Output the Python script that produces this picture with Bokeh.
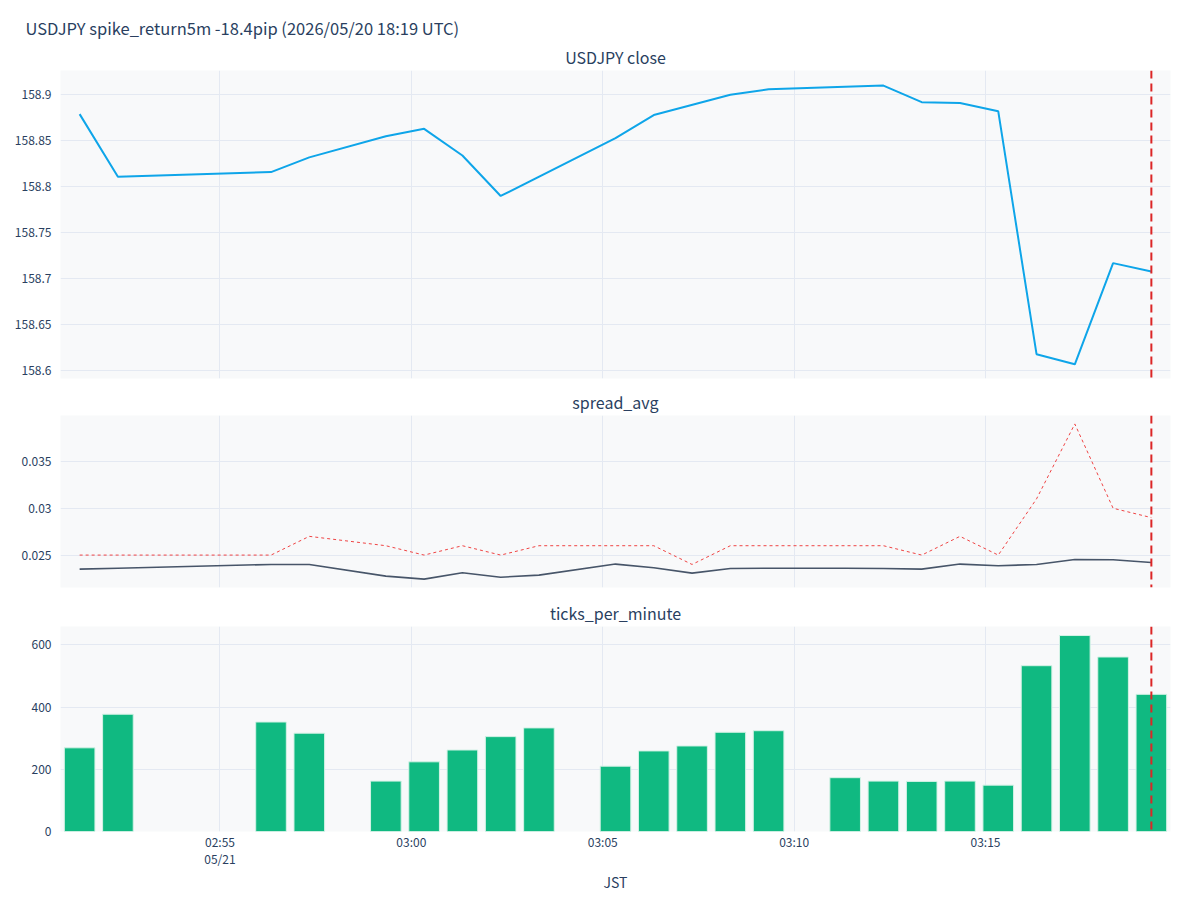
import pandas as pd
from bokeh.plotting import figure
from bokeh.layouts import column
from bokeh.models import Range1d, FixedTicker, Span, Title, CustomJSTickFormatter
from bokeh.embed import file_html
from bokeh.resources import INLINE

# ---------------- data ----------------
DATE = "2026-05-21"  # JST date

bar_times = ["02:51:20", "02:52:20", "02:56:20", "02:57:20", "02:59:20", "03:00:20",
             "03:01:20", "03:02:20", "03:03:20", "03:05:20", "03:06:20", "03:07:20",
             "03:08:20", "03:09:20", "03:11:20", "03:12:20", "03:13:20", "03:14:20",
             "03:15:20", "03:16:20", "03:17:20", "03:18:20", "03:19:20"]
ticks_per_minute = [269, 377, 352, 316, 162, 224, 262, 305, 333, 210, 259, 275,
                    319, 324, 173, 162, 161, 162, 149, 533, 630, 561, 441]

spread_times = bar_times
spread_avg = [0.0235, 0.0236, 0.0240, 0.0240, 0.02275, 0.02243, 0.02311, 0.02264,
              0.02286, 0.02404, 0.02364, 0.02307, 0.02357, 0.0236, 0.0236, 0.02357,
              0.0235, 0.02404, 0.02386, 0.0240, 0.02453, 0.0245, 0.02421]
spread_max = [0.025, 0.025, 0.025, 0.027, 0.026, 0.025, 0.026, 0.025, 0.026, 0.026,
              0.026, 0.024, 0.026, 0.026, 0.026, 0.026, 0.025, 0.027, 0.025, 0.031,
              0.039, 0.030, 0.029]

close_times = ["02:51:20", "02:52:20", "02:56:20", "02:57:20", "02:59:20", "03:00:20",
               "03:01:20", "03:02:20", "03:05:20", "03:06:20", "03:08:20", "03:09:20",
               "03:12:20", "03:13:20", "03:14:20", "03:15:20", "03:16:20", "03:17:20",
               "03:18:20", "03:19:20"]
close_values = [158.879, 158.811, 158.816, 158.832, 158.855, 158.863, 158.834, 158.790,
                158.853, 158.878, 158.900, 158.906, 158.910, 158.892, 158.891, 158.882,
                158.618, 158.607, 158.717, 158.708]

event_time = "03:19:20"
x_start, x_end = "02:50:50", "03:19:50"
xtick_times = ["02:55:00", "03:00:00", "03:05:00", "03:10:00", "03:15:00"]
xtick_labels = ["02:55\n05/21", "03:00", "03:05", "03:10", "03:15"]

close_yrange = (158.5916, 158.9264)
close_yticks = [158.6, 158.65, 158.7, 158.75, 158.8, 158.85, 158.9]
spread_yrange = (0.02154, 0.0399)
spread_yticks = [0.025, 0.03, 0.035]
tick_yrange = (0, 659)
tick_yticks = [0, 200, 400, 600]

TITLE = "USDJPY spike_return5m -18.4pip (2026/05/20 18:19 UTC)"

# ---------------- helpers ----------------
def ts(t):
    return pd.Timestamp(f"{DATE} {t}")

def ms(t):
    return ts(t).value // 10**6

FONT = "Noto Sans CJK JP"
TXT = "#2a3f5f"
GRID = "#e4e9f2"
BG = "#f8f9fa"

x_range = Range1d(ts(x_start), ts(x_end))
xtick_ms = [ms(t) for t in xtick_times]


def style_title(t, size="16px"):
    t.text_font = FONT
    t.text_font_size = size
    t.text_font_style = "normal"
    t.text_color = TXT


def make_fig(height, top, bottom, yrange, yticks):
    p = figure(width=1200, height=height, x_range=x_range, y_range=Range1d(*yrange),
               x_axis_type="datetime", output_backend="svg", toolbar_location=None,
               min_border_left=60, min_border_right=30, min_border_top=top,
               min_border_bottom=bottom, background_fill_color=BG,
               border_fill_color="white")
    p.outline_line_color = None
    for g in (p.xgrid, p.ygrid):
        g.grid_line_color = GRID
        g.grid_line_width = 1
    p.xaxis.ticker = FixedTicker(ticks=xtick_ms)
    p.xaxis.major_label_overrides = dict(zip(xtick_ms, xtick_labels))
    p.yaxis.ticker = FixedTicker(ticks=yticks)
    p.yaxis.formatter = CustomJSTickFormatter(code="return String(+tick.toFixed(4));")
    for ax in (p.xaxis, p.yaxis):
        ax.axis_line_color = None
        ax.major_tick_line_color = None
        ax.minor_tick_line_color = None
        ax.major_label_text_font = FONT
        ax.major_label_text_font_size = "12px"
        ax.major_label_text_color = TXT
    p.yaxis.major_label_standoff = 3
    p.add_layout(Span(location=ms(event_time), dimension="height", line_color="#dc2626",
                      line_width=2, line_dash="8 5"))
    return p


def panel_title(p, text):
    t = Title(text=text, align="center", standoff=4)
    style_title(t)
    return t


# top: close
p1 = make_fig(385, 70, 7, close_yrange, close_yticks)
p1.title.text = TITLE
p1.title.align = "left"
p1.title.offset = -35
p1.title.standoff = 2
style_title(p1.title, "16.5px")
p1.add_layout(panel_title(p1, "USDJPY close"), "above")
p1.xaxis.visible = False
p1.line([ts(t) for t in close_times], close_values, line_color="#0ea5e9", line_width=2)

# middle: spread
p2 = make_fig(211, 20, 9, spread_yrange, spread_yticks)
p2.title.text = "spread_avg"
p2.title.align = "center"
p2.title.standoff = 4
style_title(p2.title)
p2.xaxis.visible = False
st = [ts(t) for t in spread_times]
p2.line(st, spread_max, line_color="#ef4444", line_width=1, line_dash="3 3")
p2.line(st, spread_avg, line_color="#475569", line_width=1.6)

# bottom: ticks per minute
p3 = make_fig(304, 20, 69, tick_yrange, tick_yticks)
p3.title.text = "ticks_per_minute"
p3.title.align = "center"
p3.title.standoff = 4
style_title(p3.title)
p3.vbar(x=[ts(t) for t in bar_times], top=ticks_per_minute, width=48000, bottom=0,
        fill_color="#10b981", line_color="#d4f2e6", line_width=1)
p3.xaxis.major_label_standoff = -5
p3.xaxis.major_label_text_line_height = 1.0
p3.xaxis.axis_label = "JST"
p3.xaxis.axis_label_text_font = FONT
p3.xaxis.axis_label_text_font_size = "14px"
p3.xaxis.axis_label_text_font_style = "normal"
p3.xaxis.axis_label_text_color = TXT
p3.xaxis.axis_label_standoff = 2

layout = column(p1, p2, p3, spacing=0)
open("out.html", "w").write(file_html(layout, INLINE))
